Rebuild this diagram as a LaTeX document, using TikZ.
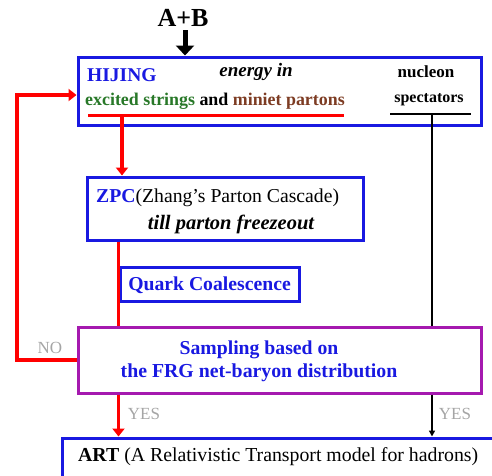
\documentclass[tikz,border=0pt]{standalone}
\usepackage{fontspec}
\setmainfont{Liberation Serif}
\usetikzlibrary{arrows.meta}
\definecolor{boxblue}{RGB}{25,25,225}
\definecolor{strgreen}{RGB}{40,120,40}
\definecolor{partbrown}{RGB}{125,60,35}
\definecolor{samppurple}{RGB}{165,25,175}
\definecolor{labgray}{RGB}{165,165,165}
\tikzset{
  bluebox/.style={draw=boxblue, line width=3pt, minimum width=#1},
  redline/.style={draw=red, line width=3.5pt},
  redarrow/.style={redline, -{Triangle[width=12pt,length=8pt]}},
  yesno/.style={text=labgray, font=\fontsize{17}{17}\selectfont},
}
\begin{document}
\begin{tikzpicture}[x=1pt, y=-1pt]
                \useasboundingbox (0, 0) rectangle (492, 475);
                \clip (0, 0) rectangle (492, 475);

                % boxes
                \node[bluebox=403pt, minimum height=68pt] (hijing) at (279.5, 91) {};
                \node[bluebox=276pt, minimum height=63pt] (zpc) at (225, 208.5) {};
                \node[bluebox=179pt, minimum height=34pt] (qc) at (209.5, 284) {};
                \node[draw=samppurple, line width=3pt, minimum width=403pt, minimum height=66pt] (samp) at (279.5, 360) {};
                \node[bluebox=440pt, minimum height=50pt] (art) at (282, 463) {};

                % texts
                \node[font=\fontsize{26}{26}\selectfont\bfseries] (ab) at (183, 18) {A+B};
                \node[anchor=west, text=boxblue, font=\fontsize{19.5}{19.5}\selectfont\bfseries, inner sep=0pt] (hij) at (87, 75) {HIJING};
                \node[font=\fontsize{19}{19}\selectfont\bfseries\itshape, inner sep=0pt] (energy) at (256, 72) {energy in};
                \node[font=\fontsize{17}{17}\selectfont\bfseries, inner sep=0pt] (nucl) at (426, 72) {nucleon};
                \node[anchor=west, font=\fontsize{17.9}{17.9}\selectfont\bfseries, inner sep=0pt] (strings) at (85, 101)
                    {\textcolor{strgreen}{excited strings} and \textcolor{partbrown}{miniet partons}};
                \node[font=\fontsize{16}{16}\selectfont\bfseries, inner sep=0pt] (spec) at (429, 100) {spectators};
                \node[anchor=west, font=\fontsize{19.7}{19.7}\selectfont, inner sep=0pt] (zpct) at (96, 198)
                    {\textcolor{boxblue}{\bfseries ZPC}(Zhang's Parton Cascade)};
                \node[font=\fontsize{20.5}{20.5}\selectfont\bfseries\itshape, inner sep=0pt] (freeze) at (231, 224) {till parton freezeout};
                \node[text=boxblue, font=\fontsize{19.7}{19.7}\selectfont\bfseries, inner sep=0pt] (qct) at (209.5, 285) {Quark Coalescence};
                \node[text=boxblue, font=\fontsize{19.7}{19.7}\selectfont\bfseries, inner sep=0pt] (samp1) at (259, 350) {Sampling based on};
                \node[text=boxblue, font=\fontsize{19.8}{19.8}\selectfont\bfseries, inner sep=0pt] (samp2) at (259, 373) {the FRG net-baryon distribution};
                \node[anchor=west, font=\fontsize{19.8}{19.8}\selectfont, inner sep=0pt] (artt) at (78, 457)
                    {\textbf{ART} (A Relativistic Transport model for hadrons)};
                \node[yesno] (no) at (50, 348) {NO};
                \node[yesno] (yesl) at (144, 414) {YES};
                \node[yesno] (yesr) at (455, 414) {YES};

                % underlines
                \coordinate (ulred) at (88, 115);
                \coordinate (ulblack) at (390, 114);
                \coordinate (down) at (122, 115);
                \coordinate (spdown) at (432, 114);
                \coordinate (loop) at (17, 95);
                \draw[draw=red, line width=3pt] (ulred) -- (344, 115);
                \draw[line width=1.5pt] (ulblack) -- (471, 114);

                % connectors
                \draw[line width=5pt, -{Triangle[width=18pt,length=10pt]}] (ab.south -| 185, 0) -- (hijing.north -| 185, 0);
                \draw[redarrow] (down) -- (down |- zpc.north);
                \draw[redline] (zpc.south -| qc.west) -- (samp.north -| qc.west);
                \draw[redarrow] (samp.west) -| (loop) -- (loop -| hijing.west);
                \draw[redarrow] (samp.south -| qc.west) -- (art.north -| qc.west);
                \draw[line width=1.5pt] (spdown) -- (spdown |- samp.north);
                \draw[line width=1.5pt, -{Triangle[width=6pt,length=6pt]}] (spdown |- samp.south) -- (spdown |- art.north);
            \end{tikzpicture}
\end{document}
